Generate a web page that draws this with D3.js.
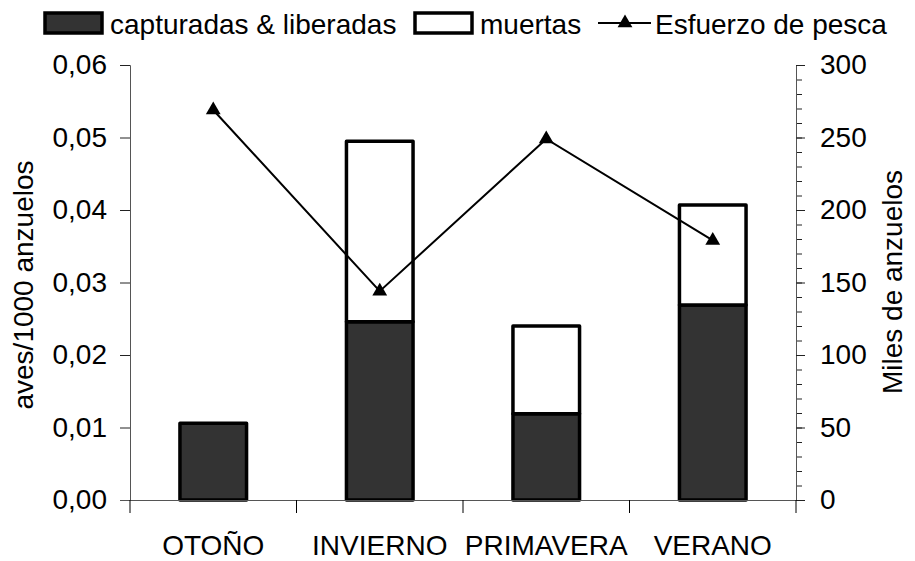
<!DOCTYPE html>
<html>
<head>
<meta charset="utf-8">
<script src="https://cdn.jsdelivr.net/npm/d3@7"></script>
<style>
body { margin: 0; background: #fff; }
text { font-family: "Liberation Sans", Arial, sans-serif; }
</style>
</head>
<body>
<div id="root"></div>
<script>
var width = 915;
var height = 561;

// datos
var estaciones = ["OTOÑO", "INVIERNO", "PRIMAVERA", "VERANO"];
var capturadas = [0.0106, 0.0246, 0.0119, 0.0269];
var muertas = [0, 0.0249, 0.0121, 0.0138];
var esfuerzo = [269, 144, 249, 179];
var ticksIzq = [0, 0.01, 0.02, 0.03, 0.04, 0.05, 0.06];
var ticksDer = [0, 50, 100, 150, 200, 250, 300];

var svg = d3.select("#root")
.append("svg")
.attr("width", width)
.attr("height", height);

// "top" es window.top, por eso otros nombres
var mIzq = 130, mDer = 796, mSup = 65, mInf = 500;

var x = d3.scaleBand()
.domain(estaciones)
.range([mIzq, mDer]);

var yL = d3.scaleLinear().domain([0, 0.06]).range([mInf, mSup]);
var yR = d3.scaleLinear().domain([0, 300]).range([mInf, mSup]);

var coma = d3.formatLocale({decimal: ",", thousands: ".", grouping: [3], currency: ["", ""]});

/* barras apiladas */
var filas = estaciones.map(function(e, i) {
	return {est: e, capturadas: capturadas[i], muertas: muertas[i]};
});
var series = d3.stack().keys(["capturadas", "muertas"])(filas);
var colores = {capturadas: "#333333", muertas: "#ffffff"};
var bw = x.bandwidth() * 0.4;

svg.append("g")
.selectAll("g")
.data(series)
.enter()
.append("g")
.attr("fill", function(d) { return colores[d.key]; })
.selectAll("rect")
.data(function(d) { return d.filter(function(s) { return s[1] - s[0] > 0; }); })
.enter()
.append("rect")
.attr("x", function(d) { return x(d.data.est) + (x.bandwidth() - bw) / 2; })
.attr("width", bw)
.attr("y", function(d) { return yL(d[1]); })
.attr("height", function(d) { return yL(d[0]) - yL(d[1]); })
.attr("stroke", "#000")
.attr("stroke-width", 3.5)
.attr("stroke-linejoin", "round");

/* eje izquierdo */
svg.append("g")
.attr("transform", "translate(" + mIzq + ",0)")
.call(d3.axisLeft(yL).tickValues(ticksIzq).tickSize(10).tickPadding(13).tickFormat(coma.format(".2f")));

/* eje derecho: menores cada 10, mayores cada 50 */
svg.append("g")
.attr("transform", "translate(" + mDer + ",0)")
.call(d3.axisRight(yR).tickValues(d3.range(0, 301, 10)).tickSize(6).tickFormat(""));
svg.append("g")
.attr("transform", "translate(" + mDer + ",0)")
.call(d3.axisRight(yR).tickValues(ticksDer).tickSize(9).tickPadding(15));

/* eje x */
var ejeX = svg.append("g")
.attr("transform", "translate(0," + mInf + ")")
.call(d3.axisBottom(x).tickSize(0).tickPadding(35));
ejeX.select(".domain").attr("d", "M" + (mIzq - 10) + ",0.5H" + mDer);
ejeX.selectAll(".sep")
.data(estaciones.map(function(e) { return x(e); }).concat([mDer]))
.enter()
.append("line")
.attr("class", "sep")
.attr("x1", function(d) { return d; })
.attr("x2", function(d) { return d; })
.attr("y1", 0)
.attr("y2", 13)
.attr("stroke", "#000");

svg.selectAll(".domain").attr("stroke", "#555");
svg.selectAll(".tick line").attr("stroke", "#222");
svg.selectAll(".tick text").attr("font-size", "28px").attr("fill", "#000")
.style("font-family", "'Liberation Sans', Arial, sans-serif");

/* linea de esfuerzo */
var puntos = estaciones.map(function(e, i) {
	return [x(e) + x.bandwidth() / 2, yR(esfuerzo[i])];
});
svg.append("path")
.datum(puntos)
.attr("fill", "none")
.attr("stroke", "#000")
.attr("stroke-width", 2)
.attr("d", d3.line());

var tri = d3.symbol().type(d3.symbolTriangle).size(95);
svg.append("g")
.selectAll("path")
.data(puntos)
.enter()
.append("path")
.attr("transform", function(d) { return "translate(" + d[0] + "," + d[1] + ")"; })
.attr("d", tri)
.attr("fill", "#000");

/* titulos de ejes */
svg.append("text")
.attr("transform", "translate(33,285) rotate(-90)")
.attr("text-anchor", "middle")
.attr("font-size", "28px")
.text("aves/1000 anzuelos");

svg.append("text")
.attr("transform", "translate(902,282) rotate(-90)")
.attr("text-anchor", "middle")
.attr("font-size", "28px")
.text("Miles de anzuelos");

/* leyenda */
var ley = svg.append("g");
ley.append("rect")
.attr("x", 45).attr("y", 13).attr("width", 57).attr("height", 20)
.attr("fill", "#333333").attr("stroke", "#000").attr("stroke-width", 3.5);
ley.append("text").attr("x", 110).attr("y", 34).attr("font-size", "28px").text("capturadas & liberadas");
ley.append("rect")
.attr("x", 415).attr("y", 13).attr("width", 57).attr("height", 20)
.attr("fill", "#fff").attr("stroke", "#000").attr("stroke-width", 3.5);
ley.append("text").attr("x", 480).attr("y", 34).attr("font-size", "28px").text("muertas");
ley.append("line")
.attr("x1", 598).attr("x2", 651).attr("y1", 23).attr("y2", 23)
.attr("stroke", "#000").attr("stroke-width", 2);
ley.append("path")
.attr("transform", "translate(625,23)")
.attr("d", tri)
.attr("fill", "#000");
ley.append("text").attr("x", 655).attr("y", 34).attr("font-size", "28px").text("Esfuerzo de pesca");
</script>
</body>
</html>
